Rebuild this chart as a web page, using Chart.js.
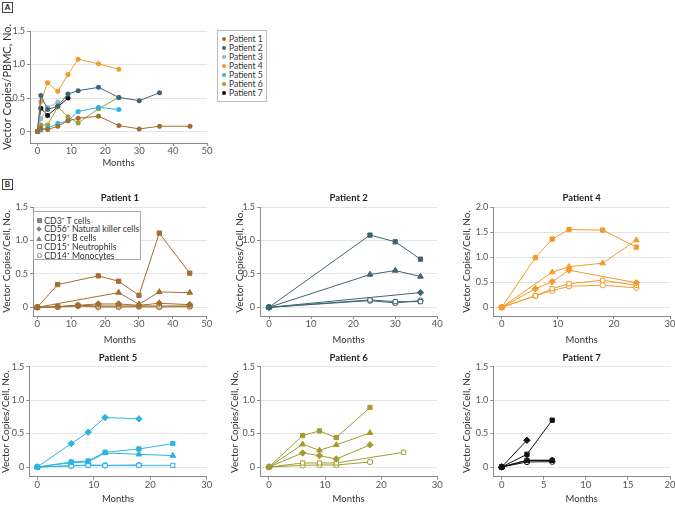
<!DOCTYPE html>
<html><head><meta charset="utf-8">
<script src="https://cdn.jsdelivr.net/npm/chart.js@4.4.1/dist/chart.umd.min.js"></script>
<style>
html,body{margin:0;padding:0;background:#fff;}
body{width:675px;height:506px;position:relative;overflow:hidden;font-family:Lato,'DejaVu Sans',sans-serif;}
canvas{position:absolute;}
.tag{position:absolute;box-sizing:border-box;border:1px solid #444;font:bold 8px Lato,sans-serif;width:11px;height:11px;line-height:9px;text-align:center;color:#222;background:#fff;}
.legend{position:absolute;box-sizing:border-box;border:1px solid #bdbdbd;background:#fff;color:#333;}
.legend .it{position:absolute;white-space:nowrap;}
.mk{position:absolute;box-sizing:border-box;}
</style></head><body>
<div class="tag" style="left:2px;top:2px;">A</div>
<div class="tag" style="left:2px;top:179px;">B</div>
<script>
// ---------------- Panel A: vector copies per PBMC ----------------
const patientNames = ['Patient 1','Patient 2','Patient 3','Patient 4','Patient 5','Patient 6','Patient 7'];
const a1Months = [0,1,3,6,9,12,18,24,30,36,45];
const a1Values = [0,0.05,0.03,0.08,0.16,0.20,0.23,0.09,0.04,0.08,0.08];
const a2Months = [0,1,3,6,9,12,18,24,30,36];
const a2Values = [0,0.54,0.33,0.38,0.56,0.61,0.66,0.51,0.46,0.58];
const a3Months = [0,1,3,6];
const a3Values = [0,0.19,0.36,0.44];
const a4Months = [0,1,3,6,9,12,18,24];
const a4Values = [0,0.45,0.73,0.60,0.85,1.08,1.01,0.93];
const a5Months = [0,1,3,6,9,12,18,24];
const a5Values = [0,0.02,0.05,0.12,0.16,0.30,0.36,0.33];
const a6Months = [0,1,3,6,9,12,18,24];
const a6Values = [0,0.10,0.10,0.37,0.22,0.13,0.34,0.51];
const a7Months = [0,1,3,6,9];
const a7Values = [0,0.35,0.24,0.37,0.50];

// ---------------- Panel B: vector copies per cell ----------------
const cellTypes = ['CD3\u207A T cells','CD56\u207A Natural killer cells','CD19\u207A B cells','CD15\u207A Neutrophils','CD14\u207A Monocytes'];

const p1Months = [0,6,12,18,24,30,36,45];
const p1CD3  = [0,0.34,null,0.47,0.39,0.18,1.11,0.51];
const p1CD56 = [0,0.01,0.03,0.05,0.05,0.03,0.06,0.04];
const p1CD19 = [0,null,null,null,0.22,0.045,0.23,0.22];
const p1CD15 = [0,0.01,0.03,0.02,0.02,0.02,0.02,0.02];
const p1CD14 = [0,0.005,0.02,0.005,0.005,0.01,0.005,0.01];

const p2Months = [0,24,30,36];
const p2CD3  = [0,1.08,0.98,0.72];
const p2CD56 = [0,null,null,0.22];
const p2CD19 = [0,0.49,0.55,0.46];
const p2CD15 = [0,0.11,0.085,0.085];
const p2CD14 = [0,0.10,0.065,0.10];

const p4Months = [0,6,9,12,18,24];
const p4CD3  = [0,0.99,1.36,1.55,1.54,1.20];
const p4CD56 = [0,0.37,0.51,0.74,null,0.49];
const p4CD19 = [0,null,0.70,0.81,0.88,1.34];
const p4CD15 = [0,0.23,0.37,0.47,0.54,0.44];
const p4CD14 = [0,0.23,0.33,0.42,0.44,0.39];

const p5Months = [0,6,9,12,18,24];
const p5CD3  = [0,0.075,0.09,0.22,0.27,0.35];
const p5CD56 = [0,0.35,0.52,0.74,0.72,null];
const p5CD19 = [0,0.065,0.075,0.21,0.19,0.17];
const p5CD15 = [0,0.015,0.025,0.02,0.025,0.025];
const p5CD14 = [0,0.02,0.03,0.025,0.03,null];

const p6Months = [0,6,9,12,18,24];
const p6CD3  = [0,0.47,0.54,0.44,0.89,null];
const p6CD56 = [0,0.21,0.17,0.12,0.33,null];
const p6CD19 = [0,0.34,0.25,0.33,0.51,null];
const p6CD15 = [0,0.06,0.06,0.06,null,0.22];
const p6CD14 = [0,0.025,0.03,0.03,0.075,null];

const p7Months = [0,3,6];
const p7CD3  = [0,0.19,0.70];
const p7CD56 = [0,0.40,null];
const p7CD19 = [0,0.10,0.10];
const p7CD15 = [0,0.10,0.10];
const p7CD14 = [0,0.075,0.08];

// tick labels
const yTicks15 = [0,0.5,1.0,1.5];
const yTicks20 = [0,0.5,1.0,1.5,2.0];
const xTicks50 = [0,10,20,30,40,50];
const xTicks40 = [0,10,20,30,40];
const xTicks30 = [0,10,20,30];
const xTicks20 = [0,5,10,15,20];

// ---------------- styles ----------------
const patientColors = ['#a26d2e','#3e6576','#9ab7c8','#f39a2b','#2cb5e3','#a29c2e','#111111'];
const cellStyles = ['rect','rectRot','triangle','rect','circle'];
const cellFilled = [true,true,true,false,false];
const cellRadius = [3,3.2,3.3,3,2.7];
const FONT = "Lato, 'DejaVu Sans', sans-serif";
const AXIS = '#8c8c8c';

function pts(months, vals){
  const out=[];
  months.forEach((m,i)=>{ if(vals[i]!==null && vals[i]!==undefined) out.push({x:m,y:vals[i]}); });
  return out;
}
function fmtY(v){ return v===0 ? '0' : v.toFixed(1); }

function makeChart(g, datasets, xr, yr, title, yTitle, yTitleSize){
  const cv = document.createElement('canvas');
  cv.width = g.right-g.left; cv.height = g.bottom-g.top;
  cv.style.left = g.left+'px'; cv.style.top = g.top+'px';
  cv.style.width = cv.width+'px'; cv.style.height = cv.height+'px';
  document.body.appendChild(cv);
  let padTop = 0, titleOpts = {display:false};
  if(title){
    const lh = 12;
    const pt = g.titleY - g.top - lh/2;
    const pb = g.areaTop - g.top - pt - lh;
    titleOpts = {display:true, text:title, fullSize:false, color:'#222',
      font:{family:FONT,size:9.5,weight:'bold',lineHeight:lh/9.5}, padding:{top:pt,bottom:pb}};
  } else {
    padTop = g.areaTop - g.top;
  }
  const ySize = yTitleSize || 10;
  const yLH = 12;
  new Chart(cv, {
    type:'line',
    data:{datasets},
    options:{
      responsive:false, animation:false, devicePixelRatio:1,
      events:[],
      layout:{padding:{left:0, top:padTop, right:g.right-g.areaRight, bottom:0}},
      plugins:{legend:{display:false}, tooltip:{enabled:false}, title:titleOpts},
      scales:{
        x:{
          type:'linear', min:xr.min, max:xr.max,
          afterBuildTicks:s=>{ s.ticks = xr.ticks.map(v=>({value:v})); },
          afterFit:s=>{ s.height = g.bottom - g.axisY; },
          ticks:{autoSkip:false, maxRotation:0, minRotation:0, padding:0, color:'#555',
            font:{family:FONT,size:9.5,lineHeight:1}, callback:v=>String(v)},
          grid:{display:true, drawOnChartArea:false, drawTicks:true, tickLength:3, tickColor:AXIS},
          border:{display:true, color:AXIS, width:1},
          title:{display:true, text:'Months', color:'#333',
            font:{family:FONT,size:9.5,lineHeight:12/9.5},
            padding:{top:0,bottom:g.bottom - g.xTitleY - 6}}
        },
        y:{
          type:'linear', min:yr.min, max:yr.max,
          afterBuildTicks:s=>{ s.ticks = yr.ticks.map(v=>({value:v})); },
          afterFit:s=>{ s.width = g.axisX - g.left; },
          ticks:{autoSkip:false, padding:2, color:'#555',
            font:{family:FONT,size:9,lineHeight:1}, callback:v=>fmtY(v)},
          grid:{display:true, drawOnChartArea:true, drawTicks:true, tickLength:3, color:'#e4e4e4', tickColor:AXIS},
          border:{display:true, color:AXIS, width:1},
          title:{display:true, text:yTitle, color:'#333',
            font:{family:FONT,size:ySize,lineHeight:yLH/ySize},
            padding:{top:g.yTitleX - g.left - yLH/2, bottom:0}}
        }
      }
    }
  });
}

// ---------- Panel A ----------
const aMonths = [a1Months,a2Months,a3Months,a4Months,a5Months,a6Months,a7Months];
const aValues = [a1Values,a2Values,a3Values,a4Values,a5Values,a6Values,a7Values];
const aSets = patientNames.map((n,i)=>({
  label:n, data:pts(aMonths[i],aValues[i]),
  borderColor:patientColors[i], backgroundColor:patientColors[i],
  borderWidth:1, pointRadius:2.5, pointBorderWidth:0, pointStyle:'circle', tension:0
}));
makeChart({left:0,top:15,right:215,bottom:170,axisX:30,areaRight:207,areaTop:31,axisY:143,yTitleX:7,xTitleY:163},
  aSets, {min:-2.2,max:50,ticks:xTicks50}, {min:-0.17,max:1.5,ticks:yTicks15}, null, 'Vector Copies/PBMC, No.', 11);

// ---------- Panel B ----------
function cellSets(months, series, color){
  return series.map((vals,k)=>({
    label:cellTypes[k], data:pts(months,vals),
    borderColor:color, backgroundColor:cellFilled[k]?color:'#ffffff',
    borderWidth:1, pointRadius:cellRadius[k], pointBorderWidth:1,
    pointStyle:cellStyles[k], tension:0
  }));
}
const yT = 'Vector Copies/Cell, No.';
const row1 = {top:185,bottom:348,areaTop:207,axisY:316,titleY:198.3,xTitleY:340};
const row2 = {top:345,bottom:506,areaTop:366.7,axisY:476.7,titleY:357.7,xTitleY:499};

makeChart(Object.assign({left:0,right:216,axisX:33,areaRight:206.7,yTitleX:7},row1),
  cellSets(p1Months,[p1CD3,p1CD56,p1CD19,p1CD15,p1CD14],patientColors[0]),
  {min:-1.27,max:50,ticks:xTicks50},{min:-0.13,max:1.5,ticks:yTicks15},'Patient 1',yT);
makeChart(Object.assign({left:228,right:446,axisX:260,areaRight:437.3,yTitleX:240},row1),
  cellSets(p2Months,[p2CD3,p2CD56,p2CD19,p2CD15,p2CD14],patientColors[1]),
  {min:-2.14,max:40,ticks:xTicks40},{min:-0.13,max:1.5,ticks:yTicks15},'Patient 2',yT);
makeChart(Object.assign({left:455,right:678,axisX:493.3,areaRight:670,yTitleX:466.7},row1),
  cellSets(p4Months,[p4CD3,p4CD56,p4CD19,p4CD15,p4CD14],patientColors[3]),
  {min:-1.5,max:30,ticks:xTicks30},{min:-0.173,max:2.0,ticks:yTicks20},'Patient 4',yT);
makeChart(Object.assign({left:0,right:216,axisX:29.3,areaRight:206.7,yTitleX:6},row2),
  cellSets(p5Months,[p5CD3,p5CD56,p5CD19,p5CD15,p5CD14],patientColors[4]),
  {min:-1.42,max:30,ticks:xTicks30},{min:-0.145,max:1.5,ticks:yTicks15},'Patient 5',yT);
makeChart(Object.assign({left:222,right:446,axisX:260,areaRight:437.3,yTitleX:235},row2),
  cellSets(p6Months,[p6CD3,p6CD56,p6CD19,p6CD15,p6CD14],patientColors[5]),
  {min:-1.6,max:30,ticks:xTicks30},{min:-0.145,max:1.5,ticks:yTicks15},'Patient 6',yT);
makeChart(Object.assign({left:455,right:678,axisX:493.3,areaRight:670,yTitleX:466.7},row2),
  cellSets(p7Months,[p7CD3,p7CD56,p7CD19,p7CD15,p7CD14],patientColors[6]),
  {min:-1.0,max:20,ticks:xTicks20},{min:-0.145,max:1.5,ticks:yTicks15},'Patient 7',yT);

// ---------- Legends ----------
(function(){
  const box = document.createElement('div');
  box.className='legend';
  Object.assign(box.style,{left:'217px',top:'30px',width:'50px',height:'72px',fontSize:'8.5px'});
  patientNames.forEach((n,i)=>{
    const cy = 39.3 + i*8.9 - 30 - 1;
    const dot = document.createElement('div');
    dot.className='mk';
    Object.assign(dot.style,{left:(224.3-217-1-2)+'px',top:(cy-2)+'px',width:'4px',height:'4px',borderRadius:'50%',background:patientColors[i]});
    box.appendChild(dot);
    const t = document.createElement('div');
    t.className='it'; t.textContent=n;
    Object.assign(t.style,{left:(229-217-1)+'px',top:(cy-5)+'px',lineHeight:'10px'});
    box.appendChild(t);
  });
  document.body.appendChild(box);
})();
(function(){
  const box = document.createElement('div');
  box.className='legend';
  Object.assign(box.style,{left:'33px',top:'210.7px',width:'107.5px',height:'49.3px',fontSize:'8.7px',borderColor:'#a8a8a8'});
  const g='#858585';
  cellTypes.forEach((n,i)=>{
    const cy = 220.7 + i*8.75 - 210.7 - 1;
    const cx = 39.3 - 33 - 1;
    const m = document.createElement('div');
    m.className='mk';
    if(i===0) Object.assign(m.style,{left:(cx-2.5)+'px',top:(cy-2.5)+'px',width:'5px',height:'5px',background:g});
    if(i===1) Object.assign(m.style,{left:(cx-2)+'px',top:(cy-2)+'px',width:'4px',height:'4px',background:g,transform:'rotate(45deg)'});
    if(i===2) Object.assign(m.style,{left:(cx-3)+'px',top:(cy-2.5)+'px',width:'0',height:'0',borderLeft:'3px solid transparent',borderRight:'3px solid transparent',borderBottom:'5px solid '+g});
    if(i===3) Object.assign(m.style,{left:(cx-2.5)+'px',top:(cy-2.5)+'px',width:'5px',height:'5px',border:'1px solid '+g,background:'#fff'});
    if(i===4) Object.assign(m.style,{left:(cx-2.5)+'px',top:(cy-2.5)+'px',width:'5px',height:'5px',border:'1px solid '+g,borderRadius:'50%',background:'#fff'});
    box.appendChild(m);
    const t = document.createElement('div');
    t.className='it'; t.textContent=n;
    Object.assign(t.style,{left:(44.3-33-1)+'px',top:(cy-5)+'px',lineHeight:'10px'});
    box.appendChild(t);
  });
  document.body.appendChild(box);
})();
</script>
</body></html>
